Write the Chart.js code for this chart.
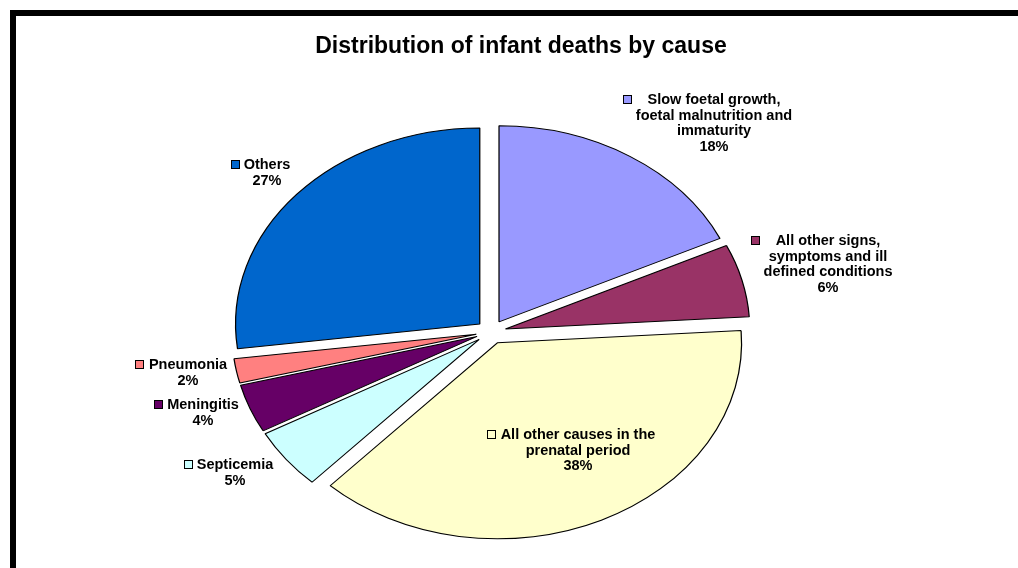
<!DOCTYPE html>
<html>
<head>
<meta charset="utf-8">
<script src="https://cdn.jsdelivr.net/npm/chart.js@4.4.1/dist/chart.umd.min.js"></script>
<style>
  html, body { margin: 0; padding: 0; background: #fff; }
  #wrap { position: relative; width: 1018px; height: 568px; overflow: hidden; }
  #frame { position: absolute; left: 10px; top: 10px; right: 0; bottom: 0;
           border-top: 6px solid #000; border-left: 6px solid #000; }
  canvas { position: absolute; left: 0; top: 0; }
</style>
</head>
<body>
<div id="wrap">
  <div id="frame"></div>
  <canvas id="pie" width="1018" height="568"></canvas>
</div>
<script>
// data
const causes = [
  'Slow foetal growth, foetal malnutrition and immaturity',
  'All other signs, symptoms and ill defined conditions',
  'All other causes in the prenatal period',
  'Septicemia',
  'Meningitis',
  'Pneumonia',
  'Others'
];
const shares = [18, 6, 38, 5, 4, 2, 27];
const labelLines = [
  ['Slow foetal growth,', 'foetal malnutrition and', 'immaturity'],
  ['All other signs,', 'symptoms and ill', 'defined conditions'],
  ['All other causes in the', 'prenatal period'],
  ['Septicemia'],
  ['Meningitis'],
  ['Pneumonia'],
  ['Others']
];
const colours = ['#9999FF', '#993366', '#FFFFCC', '#CCFFFF', '#660066', '#FF8080', '#0066CC'];

// label placement, relative to the pie centre (text centre, first line)
const labelPos = [
  { dx: 223, dy: -232, gap: 16 },
  { dx: 337, dy: -91,  gap: 16 },
  { dx: 87,  dy: 103,  gap: 5 },
  { dx: -256, dy: 133, gap: 4 },
  { dx: -288, dy: 73,  gap: 4 },
  { dx: -303, dy: 33,  gap: 5 },
  { dx: -224, dy: -167, gap: 4 }
];

const STRETCH = 1.246;   // the pie in the picture is an ellipse
const EXPLODE = 12;      // every slice pulled out
const FONT = '"Liberation Sans", Arial, sans-serif';
const LINE_H = 15.7;

// draws the arcs stretched into an ellipse, each one pulled out along its middle angle
const explodedPlugin = {
  id: 'exploded',
  beforeDatasetsDraw(chart) {
    const arcs = chart.getDatasetMeta(0).data;
    const ctx = chart.ctx;
    const cx = arcs[0].x, cy = arcs[0].y;
    ctx.save();
    ctx.translate(cx, cy);
    ctx.scale(STRETCH, 1);
    ctx.translate(-cx, -cy);
    arcs.forEach(arc => {
      const mid = (arc.startAngle + arc.endAngle) / 2;
      ctx.save();
      ctx.translate(Math.cos(mid) * EXPLODE, Math.sin(mid) * EXPLODE);
      arc.draw(ctx);
      ctx.restore();
    });
    ctx.restore();
    return false;
  }
};

const labelPlugin = {
  id: 'sliceLabels',
  afterDraw(chart) {
    const ctx = chart.ctx;
    const arc = chart.getDatasetMeta(0).data[0];
    ctx.save();
    ctx.fillStyle = '#000';
    ctx.textAlign = 'center';
    ctx.textBaseline = 'middle';

    ctx.font = 'bold 23px ' + FONT;
    ctx.fillText('Distribution of infant deaths by cause', 521, 47);

    ctx.font = 'bold 14.5px ' + FONT;
    labelLines.forEach((lines, i) => {
      const p = labelPos[i];
      const x = arc.x + p.dx;
      const y = arc.y + p.dy;
      const all = lines.concat([shares[i] + '%']);
      all.forEach((t, k) => {
        ctx.fillStyle = '#000';
        ctx.fillText(t, x, y + k * LINE_H);
      });
      const w = ctx.measureText(lines[0]).width;
      const mx = Math.round(x - w / 2 - p.gap - 9);
      const my = Math.round(y - 5);
      ctx.fillStyle = colours[i];
      ctx.fillRect(mx, my, 9, 9);
      ctx.strokeStyle = '#000';
      ctx.lineWidth = 1;
      ctx.strokeRect(mx + 0.5, my + 0.5, 8, 8);
    });
    ctx.restore();
  }
};

new Chart(document.getElementById('pie').getContext('2d'), {
  type: 'pie',
  data: {
    labels: causes,
    datasets: [{
      data: shares,
      backgroundColor: colours,
      borderColor: '#000',
      borderWidth: 1,
      radius: 196
    }]
  },
  options: {
    responsive: false,
    animation: false,
    events: [],
    layout: { padding: { left: 0, right: 36, top: 96, bottom: 0 } },
    plugins: {
      legend: { display: false },
      title: { display: false },
      tooltip: { enabled: false }
    }
  },
  plugins: [explodedPlugin, labelPlugin]
});
</script>
</body>
</html>
